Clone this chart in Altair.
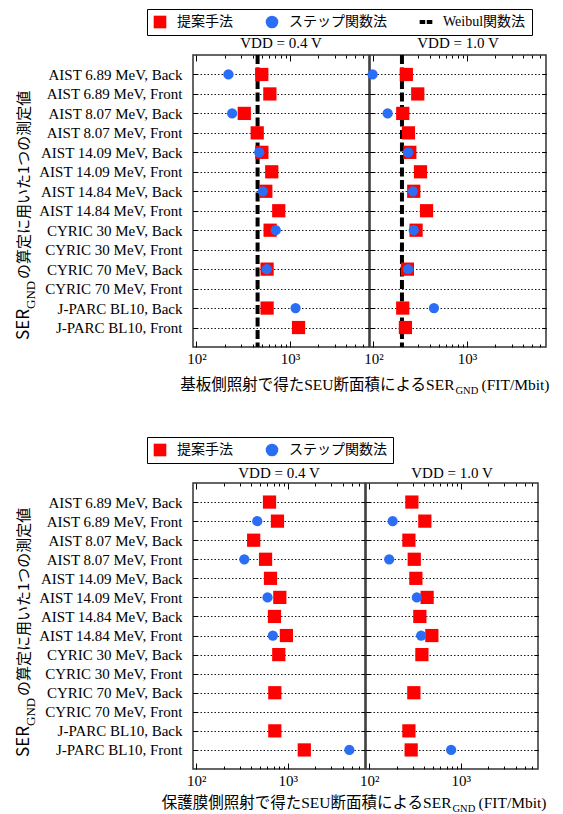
import altair as alt
import pandas as pd

ROWS = ["AIST 6.89 MeV, Back", "AIST 6.89 MeV, Front", "AIST 8.07 MeV, Back", "AIST 8.07 MeV, Front",
        "AIST 14.09 MeV, Back", "AIST 14.09 MeV, Front", "AIST 14.84 MeV, Back", "AIST 14.84 MeV, Front",
        "CYRIC 30 MeV, Back", "CYRIC 30 MeV, Front", "CYRIC 70 MeV, Back", "CYRIC 70 MeV, Front",
        "J-PARC BL10, Back", "J-PARC BL10, Front"]

M_PROP = "提案手法"
M_STEP = "ステップ関数法"
M_WEIB = "Weibul関数法"

# Top: substrate-side irradiation
top_prop_04 = [500, 610, 325, 447, 501, 639, 552, 759, 614, None, 570, None, 570, 1236]
top_step_04 = [220, None, 241, None, 469, None, 513, None, 705, None, 566, None, 1148, None]
top_prop_10 = [225, 298, 206, 237, 245, 319, 270, 370, 286, None, 231, None, 206, 220]
top_step_10 = [98, None, 142, None, 235, None, 264, None, 270, None, 235, None, 444, None]
top_weibull = [451, 202]

# Bottom: protective-film-side irradiation
bot_prop_04 = [632, 772, 424, 572, 648, 819, 716, 967, 798, None, 722, None, 722, 1517]
bot_step_04 = [None, 464, None, 335, None, 601, None, 687, None, None, None, None, None, 4720]
bot_prop_10 = [292, 405, 271, 310, 323, 429, 357, 483, 376, None, 307, None, 271, 287]
bot_step_10 = [None, 180, None, 165, None, 331, None, 369, None, None, None, None, None, 785]

VDD_TITLES = ["VDD = 0.4 V", "VDD = 1.0 V"]
MAJOR = [100, 1000]
MINOR = [200, 300, 400, 500, 600, 700, 800, 900, 2000, 3000, 4000, 5000, 6000]

SERIF = "Liberation Serif, Noto Sans CJK JP"
SANS_JP = "Noto Sans CJK JP"
RED = "#FF0000"
BLUE = "#2A6EF5"
DASH_PATH = "M-1,-0.3H-0.12V0.3H-1Z M0.12,-0.3H1V0.3H0.12Z"


def long_df(prop, step):
    recs = []
    for r, v in zip(ROWS, prop):
        if v is not None:
            recs.append({"row": r, "method": M_PROP, "value": v})
    for r, v in zip(ROWS, step):
        if v is not None:
            recs.append({"row": r, "method": M_STEP, "value": v})
    return pd.DataFrame(recs)


def text_layer(t, x, y, size, font, align="left", angle=0, baseline="middle"):
    return alt.Chart(pd.DataFrame({"t": [t]})).mark_text(
        align=align, baseline=baseline, fontSize=size, font=font, angle=angle, color="black"
    ).encode(text="t:N", x=alt.value(x), y=alt.value(y))


def panel(df, weib, title, first, w, h, methods, legend, xtitle, ytitle_y):
    xs = alt.Scale(type="log", domain=[92, 7000], nice=False)
    ys = alt.Scale(type="point", domain=ROWS, padding=1)
    cols = [RED, BLUE, "black"][:len(methods)]
    shps = ["square", "circle", DASH_PATH][:len(methods)]
    color = alt.Color("method:N", scale=alt.Scale(domain=methods, range=cols), legend=legend, title=None)
    shape = alt.Shape("method:N", scale=alt.Scale(domain=methods, range=shps), legend=legend, title=None)

    ax_b_major = alt.Axis(orient="bottom", values=MAJOR, title=None, domain=False, grid=False,
                          tickSize=6, offset=-6, labelPadding=4,
                          labelExpr="datum.value == 100 ? '10²' : '10³'")
    ax_b_minor = alt.Axis(orient="bottom", values=MINOR, title=None, domain=False, grid=False,
                          tickSize=3, offset=-3, labels=False)
    ax_t_major = alt.Axis(orient="top", values=MAJOR, title=None, domain=False, grid=False,
                          tickSize=6, offset=-6, labels=False)
    ax_t_minor = alt.Axis(orient="top", values=MINOR, title=None, domain=False, grid=False,
                          tickSize=3, offset=-3, labels=False)
    y_left = alt.Axis(orient="left", title=None, domain=False, grid=True, gridDash=[1.5, 2],
                      gridColor="black", gridWidth=1, gridOpacity=0.9,
                      tickSize=4, offset=-4, labels=first, labelPadding=11)
    y_right = alt.Axis(orient="right", title=None, domain=False, grid=False,
                       tickSize=4, offset=-4, labels=False)

    prop = alt.Chart(df).transform_filter(alt.datum.method == M_PROP).mark_point(
        filled=True, opacity=1, size=175, strokeWidth=0
    ).encode(
        x=alt.X("value:Q", scale=xs, axis=ax_b_major),
        y=alt.Y("row:N", scale=ys, axis=y_left),
        color=color, shape=shape,
    )
    step = alt.Chart(df).transform_filter(alt.datum.method == M_STEP).mark_point(
        filled=True, opacity=1, size=105, strokeWidth=0
    ).encode(
        x=alt.X("value:Q", scale=xs, axis=ax_b_minor),
        y=alt.Y("row:N", scale=ys, axis=y_right),
        color=color, shape=shape,
    )
    inv1 = alt.Chart(df).mark_point(opacity=0).encode(
        x=alt.X("value:Q", scale=xs, axis=ax_t_major),
        y=alt.Y("row:N", scale=ys, axis=None),
    )
    inv2 = alt.Chart(df).mark_point(opacity=0).encode(
        x=alt.X("value:Q", scale=xs, axis=ax_t_minor),
        y=alt.Y("row:N", scale=ys, axis=None),
    )
    layers = [inv1, inv2]
    if weib is not None:
        wr = alt.Chart(pd.DataFrame({"value": [weib]})).mark_rule(
            color="black", strokeWidth=4, strokeDash=[9, 3.5]
        ).encode(x=alt.X("value:Q", scale=xs, axis=None))
        layers.append(wr)
    layers += [prop, step]

    if first:
        main, xm, xy = xtitle
        layers += [
            text_layer(main, xm, xy, 15.5, SERIF, align="right"),
            text_layer("GND", xm + 1, xy + 6, 10.5, SERIF, align="left"),
            text_layer("(FIT/Mbit)", xm + 27, xy, 15.5, SERIF, align="left"),
            text_layer("SER", -169, ytitle_y, 17, SANS_JP, align="left", angle=270),
            text_layer("GND", -162, ytitle_y - 31, 13, SERIF, align="left", angle=270),
            text_layer("の算定に用いた1つの測定値", -169, ytitle_y - 61, 15, SANS_JP, align="left", angle=270),
        ]

    return alt.layer(*layers).resolve_axis(x="independent", y="independent").properties(
        width=w, height=h,
        title=alt.Title(title, font=SERIF, fontSize=15, fontWeight="normal", offset=2, color="black"),
    )


def section(prop04, step04, prop10, step10, weib, methods, w, h, xtitle_main, xtitle_x, xtitle_y, yty):
    legend = alt.Legend(orient="top-left", offset=-46, direction="horizontal",
                        strokeColor="black", padding=6, labelFont=SERIF, labelFontSize=14,
                        labelColor="black", symbolSize=160, symbolStrokeWidth=0,
                        labelOffset=10, columnPadding=32, title=None)
    df04 = long_df(prop04, step04)
    df10 = long_df(prop10, step10)
    p1 = panel(df04, weib[0] if weib else None, VDD_TITLES[0], True, w, h, methods, legend,
               (xtitle_main, xtitle_x, xtitle_y), yty)
    p2 = panel(df10, weib[1] if weib else None, VDD_TITLES[1], False, w, h, methods, legend, None, yty)
    return alt.hconcat(p1, p2, spacing=1, bounds="flush")


top = section(top_prop_04, top_step_04, top_prop_10, top_step_10, top_weibull,
              [M_PROP, M_STEP, M_WEIB], 176, 292,
              "基板側照射で得たSEU断面積によるSER", 261.5, 330, 285)
bottom = section(bot_prop_04, bot_step_04, bot_prop_10, bot_step_10, None,
                 [M_PROP, M_STEP], 172, 286,
                 "保護膜側照射で得たSEU断面積によるSER", 258.5, 320, 274)

chart = alt.vconcat(top, bottom, spacing=38).resolve_scale(
    color="independent", shape="independent"
).properties(
    padding={"left": 6, "top": 0, "right": 0, "bottom": 0}
).configure_view(
    stroke="#333333", strokeWidth=1.5
).configure_axis(
    labelFont=SERIF, labelFontSize=15, labelColor="black", tickColor="black", tickWidth=1
).configure_legend(
    fillColor="white"
)

chart.save("out.html", embed_options={"renderer": "svg", "actions": False})
